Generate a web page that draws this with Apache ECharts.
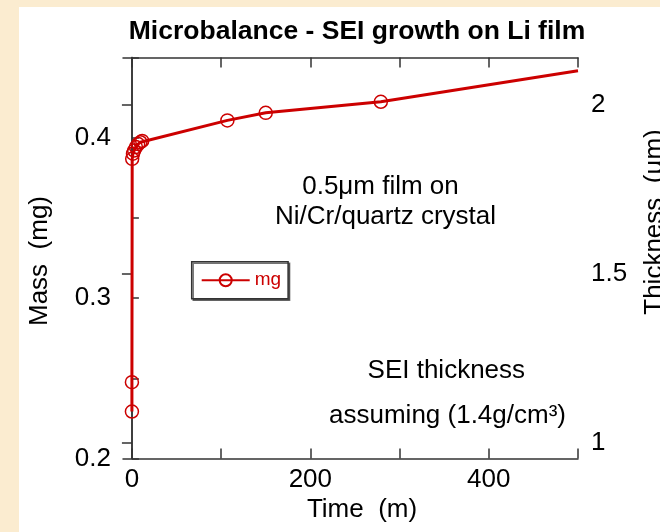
<!DOCTYPE html>
<html>
<head>
<meta charset="utf-8">
<title>Microbalance - SEI growth on Li film</title>
<script src="https://cdn.jsdelivr.net/npm/echarts@6/dist/echarts.min.js"></script>
<style>
  html, body { margin: 0; padding: 0; background: #fbecd0; }
  #chart { width: 660px; height: 532px; }
</style>
</head>
<body>
<div id="chart"></div>
<script>
// Quartz-crystal microbalance: deposited mass on a Li film versus time
const timeMin = [0, 0, 0.3, 1.2, 2.5, 4.5, 7, 9.5, 11.5, 107, 150, 279, 500];
const massMg  = [0.2293, 0.2476, 0.3868, 0.3900, 0.3920, 0.3942, 0.3960, 0.3972, 0.3980, 0.4108, 0.4155, 0.4224, 0.4417];
// the final reading closes the trace without a marker
const markerShown = [true, true, true, true, true, true, true, true, true, true, true, true, false];

const timeTicks  = [0, 100, 200, 300, 400, 500];
const timeLabels = [0, 200, 400];
const massTicks  = [0.2, 0.25, 0.3, 0.35, 0.4, 0.45];
const massLabels = [0.2, 0.3, 0.4];
const thicknessTicks = [1, 1.5, 2];

const timeRange = [-10, 500];
const massRange = [0.2, 0.45];
// SEI thickness scale (µm) assuming a density of 1.4 g/cm3
const thicknessRange = [0.9526, 2.1407];

const seriesName = 'mg';
const FONT = "'Liberation Sans', Arial, Helvetica, sans-serif";
const RED = '#cc0000';
const AXIS = '#333333';

const points = timeMin.map((t, i) => {
  const item = { value: [t, massMg[i]] };
  if (!markerShown[i]) item.symbol = 'none';
  return item;
});

const chart = echarts.init(document.getElementById('chart'), null, { renderer: 'canvas' });

const axisLineStyle = { show: true, lineStyle: { color: AXIS, width: 1.5 } };
const tickStyle = (len, values) => ({
  show: true, inside: true, length: len, customValues: values,
  lineStyle: { color: AXIS, width: 1.5 }
});

chart.setOption({
  animation: false,
  backgroundColor: 'transparent',
  title: {
    text: 'Microbalance - SEI growth on Li film',
    left: 357, top: 32, textAlign: 'center', textVerticalAlign: 'middle', padding: 0,
    textStyle: { fontFamily: FONT, fontSize: 26.5, fontWeight: 'bold', color: '#000' }
  },
  grid: { left: 123, right: 82, top: 57.5, height: 401, containLabel: false },
  xAxis: [
    {
      type: 'value', position: 'bottom', min: timeRange[0], max: timeRange[1],
      axisLine: axisLineStyle,
      axisTick: tickStyle(10, timeTicks),
      axisLabel: { customValues: timeLabels, margin: 8, fontFamily: FONT, fontSize: 26, color: '#000' },
      splitLine: { show: false }
    },
    {
      type: 'value', position: 'top', min: timeRange[0], max: timeRange[1],
      axisLine: axisLineStyle,
      axisTick: tickStyle(10, timeTicks),
      axisLabel: { show: false },
      splitLine: { show: false }
    }
  ],
  yAxis: [
    {
      type: 'value', position: 'left', min: massRange[0], max: massRange[1],
      axisLine: axisLineStyle,
      axisTick: tickStyle(7, massTicks),
      axisLabel: { customValues: massLabels, margin: 12, fontFamily: FONT, fontSize: 26, color: '#000',
                   formatter: v => v.toFixed(1) },
      splitLine: { show: false }
    },
    {
      type: 'value', position: 'right', min: thicknessRange[0], max: thicknessRange[1],
      axisLine: axisLineStyle,
      axisTick: tickStyle(10, thicknessTicks),
      axisLabel: { customValues: thicknessTicks, margin: 13, fontFamily: FONT, fontSize: 26, color: '#000' },
      splitLine: { show: false }
    }
  ],
  legend: {
    data: [seriesName],
    left: 191.7, top: 261.7,
    padding: [9, 7, 9, 9],
    itemWidth: 48, itemHeight: 15, itemGap: 5,
    backgroundColor: '#ffffff',
    borderColor: AXIS, borderWidth: 1.5,
    shadowColor: 'rgba(0,0,0,0.55)', shadowBlur: 0, shadowOffsetX: 1.5, shadowOffsetY: 1.5,
    textStyle: { color: RED, fontFamily: FONT, fontSize: 19 }
  },
  series: [{
    name: seriesName,
    type: 'line',
    xAxisIndex: 0, yAxisIndex: 0,
    data: points,
    symbol: 'circle', symbolSize: 13,
    showAllSymbol: true,
    clip: true,
    lineStyle: { color: RED, width: 3 },
    itemStyle: { color: 'rgba(0,0,0,0)', borderColor: RED, borderWidth: 1.5 },
    emphasis: { disabled: true }
  }],
  graphic: [
    { type: 'rect', z: -100, silent: true,
      shape: { x: 19, y: 7, width: 641, height: 525 }, style: { fill: '#ffffff' } },
    { type: 'text', x: 40, y: 261, rotation: Math.PI / 2,
      style: { text: 'Mass  (mg)', fontFamily: FONT, fontSize: 26, fill: '#000', align: 'center', verticalAlign: 'middle' } },
    { type: 'text', x: 362, y: 510,
      style: { text: 'Time  (m)', fontFamily: FONT, fontSize: 26, fill: '#000', align: 'center', verticalAlign: 'middle' } },
    { type: 'text', x: 655, y: 222, rotation: Math.PI / 2,
      style: { text: 'Thickness  (µm)', fontFamily: FONT, fontSize: 26, fill: '#000', align: 'center', verticalAlign: 'middle' } },
    { type: 'text', x: 380.5, y: 187,
      style: { text: '0.5μm film on', fontFamily: FONT, fontSize: 26, fill: '#000', align: 'center', verticalAlign: 'middle' } },
    { type: 'text', x: 385.5, y: 217,
      style: { text: 'Ni/Cr/quartz crystal', fontFamily: FONT, fontSize: 26, fill: '#000', align: 'center', verticalAlign: 'middle' } },
    { type: 'text', x: 446.3, y: 371,
      style: { text: 'SEI thickness', fontFamily: FONT, fontSize: 26, fill: '#000', align: 'center', verticalAlign: 'middle' } },
    { type: 'text', x: 447.5, y: 416,
      style: { text: 'assuming (1.4g/cm³)', fontFamily: FONT, fontSize: 26, fill: '#000', align: 'center', verticalAlign: 'middle' } }
  ]
});
</script>
</body>
</html>
